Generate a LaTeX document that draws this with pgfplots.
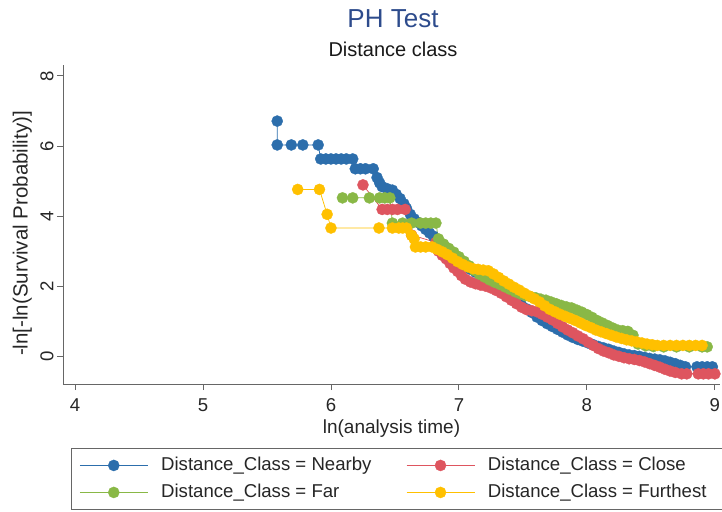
\documentclass[border=0pt]{standalone}
\usepackage{pgfplots}
\pgfplotsset{compat=1.18}
\usepackage{fontspec}
\setmainfont{Liberation Sans}
\definecolor{cNear}{RGB}{44,110,172}
\definecolor{cClose}{RGB}{222,85,95}
\definecolor{cFar}{RGB}{137,184,70}
\definecolor{cFurth}{RGB}{255,192,0}
\definecolor{ttl}{RGB}{45,75,140}
\begin{document}
\begin{tikzpicture}
\path[use as bounding box] (-63pt,-127pt) rectangle (659pt,384pt);
\begin{axis}[
  at={(0pt,0pt)}, anchor=south west,
  width=657pt, height=319pt, scale only axis,
  xmin=3.906, xmax=9.04, ymin=-0.79, ymax=8.31,
  axis x line*=bottom, axis y line*=left,
  axis line style={draw=black!60, line width=0.9pt},
  xtick={4,5,6,7,8,9}, ytick={0,2,4,6,8},
  tick align=outside, major tick length=6pt,
  tick style={draw=black!60, line width=0.9pt},
  /pgf/number format/assume math mode=true,
  tick label style={font=\fontsize{18.6}{22}\selectfont, text=black!85},
  xticklabel style={yshift=-5pt},
  yticklabel style={rotate=90, anchor=south},
  xlabel={ln(analysis time)},
  ylabel={-ln[-ln(Survival Probability)]},
  label style={font=\fontsize{19}{22}\selectfont, text=black!85},
  xlabel style={at={(axis description cs:0.5,-0.14)}, anchor=center},
  ylabel style={at={(axis description cs:-0.062,0.472)}, anchor=center, font=\fontsize{20.5}{24}\selectfont},
  clip=false,
  every axis plot/.append style={line width=0.75pt, mark=*, mark size=5.6pt, mark options={line width=0.3pt}},
  legend columns=2,
  legend image code/.code={\draw[mark repeat=2,mark phase=2,#1] plot coordinates {(0pt,0pt) (34pt,0pt) (68pt,0pt)};},
  legend style={at={(axis description cs:0.01172,-0.2006)}, anchor=north west,
    draw=black!60, line width=0.8pt, fill=white,
    font=\fontsize{18.6}{22}\selectfont, text=black!85,
    inner xsep=8.3pt, inner ysep=8.3pt,
    nodes={inner sep=0pt, text height=13.5pt, text depth=4pt},
    row sep=9.5pt,
    /tikz/every odd column/.style={column sep=13pt}},
]
\addplot[color=cNear] table {
5.58 6.71
5.58 6.03
5.69 6.03
5.78 6.03
5.90 6.03
5.92 5.63
5.96 5.63
6.00 5.63
6.04 5.63
6.08 5.63
6.12 5.63
6.17 5.63
6.19 5.35
6.23 5.35
6.27 5.35
6.33 5.35
6.36 5.10
6.38 4.95
6.40 4.84
6.44 4.78
6.48 4.74
6.51 4.62
6.54 4.50
6.57 4.35
6.59 4.22
6.62 4.05
6.65 3.92
6.68 3.82
6.71 3.72
6.74 3.62
6.77 3.52
6.80 3.43
6.83 3.33
6.86 3.22
6.89 3.12
6.92 3.02
6.95 2.92
6.98 2.80
7.01 2.70
7.05 2.58
7.09 2.48
7.13 2.40
7.17 2.32
7.21 2.22
7.25 2.12
7.29 2.02
7.33 1.92
7.37 1.82
7.41 1.70
7.45 1.57
7.49 1.45
7.53 1.35
7.57 1.25
7.61 1.12
7.65 1.02
7.69 0.93
7.73 0.85
7.77 0.77
7.81 0.69
7.85 0.61
7.89 0.54
7.93 0.48
7.97 0.43
8.01 0.38
8.05 0.33
8.09 0.28
8.13 0.24
8.17 0.20
8.21 0.15
8.25 0.11
8.29 0.07
8.33 0.04
8.37 0.02
8.41 0.00
8.45 -0.03
8.49 -0.06
8.53 -0.08
8.57 -0.10
8.61 -0.13
8.65 -0.17
8.69 -0.21
8.73 -0.26
8.77 -0.30
8.86 -0.30
8.90 -0.30
8.94 -0.30
8.98 -0.30
};
\addlegendentry{\makebox[245pt][l]{Distance\_Class = Nearby}}
\addplot[color=cClose] table {
6.25 4.89
6.40 4.19
6.44 4.19
6.48 4.19
6.52 4.19
6.58 4.19
6.63 3.46
6.82 3.25
6.84 3.00
6.87 2.88
6.90 2.78
6.93 2.65
6.96 2.52
6.99 2.42
7.02 2.30
7.05 2.20
7.09 2.12
7.13 2.07
7.17 2.03
7.21 2.00
7.25 1.95
7.29 1.88
7.33 1.80
7.37 1.70
7.41 1.60
7.45 1.50
7.49 1.40
7.53 1.33
7.57 1.30
7.61 1.27
7.65 1.20
7.69 1.12
7.73 1.04
7.77 0.94
7.81 0.84
7.85 0.75
7.89 0.67
7.93 0.58
7.97 0.50
8.01 0.40
8.05 0.31
8.09 0.22
8.13 0.15
8.17 0.10
8.21 0.04
8.25 0.00
8.29 -0.04
8.33 -0.07
8.37 -0.09
8.41 -0.12
8.45 -0.16
8.49 -0.21
8.53 -0.26
8.57 -0.31
8.61 -0.37
8.65 -0.42
8.69 -0.46
8.74 -0.50
8.78 -0.50
8.87 -0.50
8.91 -0.50
8.95 -0.50
9.00 -0.50
};
\addlegendentry{\makebox[226pt][l]{Distance\_Class = Close}}
\addplot[color=cFar] table {
6.09 4.52
6.17 4.52
6.30 4.52
6.38 4.52
6.42 4.52
6.46 4.52
6.48 3.80
6.56 3.80
6.63 3.80
6.70 3.80
6.74 3.80
6.78 3.80
6.82 3.80
6.84 3.35
6.88 3.20
6.92 3.08
6.96 2.97
7.00 2.84
7.04 2.71
7.08 2.58
7.12 2.45
7.16 2.34
7.20 2.26
7.24 2.18
7.28 2.11
7.32 2.05
7.36 1.98
7.40 1.91
7.44 1.84
7.48 1.78
7.52 1.73
7.56 1.70
7.60 1.67
7.64 1.63
7.68 1.60
7.72 1.55
7.76 1.50
7.80 1.45
7.84 1.41
7.88 1.38
7.92 1.32
7.96 1.26
8.00 1.19
8.04 1.11
8.08 1.02
8.12 0.95
8.16 0.88
8.20 0.81
8.24 0.75
8.28 0.73
8.32 0.71
8.36 0.60
8.40 0.35
8.46 0.30
8.52 0.28
8.60 0.27
8.70 0.27
8.80 0.27
8.90 0.27
8.94 0.27
};
\addlegendentry{\makebox[245pt][l]{Distance\_Class = Far}}
\addplot[color=cFurth] table {
5.74 4.76
5.91 4.76
5.97 4.05
6.00 3.66
6.375 3.66
6.48 3.66
6.53 3.66
6.56 3.66
6.59 3.66
6.63 3.45
6.65 3.35
6.66 3.12
6.70 3.12
6.74 3.12
6.79 3.12
6.83 3.05
6.87 2.98
6.91 2.90
6.95 2.80
6.99 2.70
7.03 2.62
7.07 2.55
7.11 2.50
7.15 2.48
7.19 2.46
7.23 2.44
7.27 2.35
7.31 2.25
7.35 2.15
7.39 2.06
7.43 1.97
7.47 1.89
7.51 1.80
7.55 1.72
7.59 1.64
7.63 1.55
7.67 1.44
7.71 1.34
7.75 1.27
7.79 1.20
7.83 1.14
7.87 1.08
7.91 1.02
7.95 0.95
7.99 0.88
8.03 0.82
8.07 0.75
8.11 0.70
8.15 0.65
8.19 0.60
8.23 0.55
8.27 0.51
8.31 0.47
8.35 0.44
8.39 0.41
8.43 0.38
8.47 0.35
8.51 0.33
8.55 0.31
8.60 0.31
8.65 0.31
8.70 0.31
8.75 0.31
8.80 0.31
8.85 0.31
8.90 0.31
};
\addlegendentry{\makebox[226pt][l]{Distance\_Class = Furthest}}
\end{axis}
\node[font=\fontsize{26}{30}\selectfont, text=ttl, anchor=base] at (330pt,356.7pt) {PH Test};
\node[font=\fontsize{20}{24}\selectfont, text=black!90, anchor=base] at (330pt,327pt) {Distance class};
\end{tikzpicture}
\end{document}
